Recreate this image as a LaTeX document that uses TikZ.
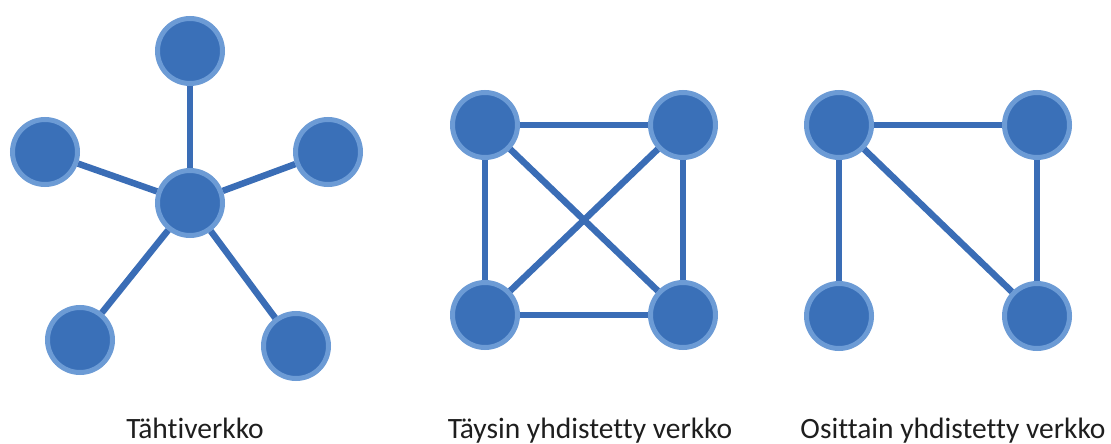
\documentclass[tikz,border=0pt]{standalone}
\usepackage{fontspec}
\setmainfont{Carlito}[Ligatures=NoCommon]
\definecolor{nodefill}{HTML}{3A70B8}
\definecolor{nodering}{HTML}{6C9BD5}
\definecolor{linkblue}{HTML}{3A6DB6}
\definecolor{labelgray}{HTML}{1E1E1E}
\begin{document}
\begin{tikzpicture}[x=1pt,y=-1pt,
  netnode/.style={circle,inner sep=0pt,minimum size=65pt,fill=nodefill,draw=nodering,line width=5pt},
  link/.style={draw=linkblue,line width=6.5pt},
  caption/.style={anchor=base,font=\fontsize{29.5}{34}\selectfont,text=labelgray,inner sep=0pt}]
\useasboundingbox (0,0) rectangle (1111,444);

% star network
\node[netnode] (sc) at (190,203) {};
\node[netnode] (s1) at (190,51) {};
\node[netnode] (s2) at (45,152) {};
\node[netnode] (s3) at (328,152) {};
\node[netnode] (s4) at (80,340) {};
\node[netnode] (s5) at (296,346) {};
\foreach \n in {s1,s2,s3,s4,s5} \draw[link] (sc) -- (\n);

% fully connected network
\node[netnode] (f1) at (485,125) {};
\node[netnode] (f2) at (683,125) {};
\node[netnode] (f3) at (485,315) {};
\node[netnode] (f4) at (683,315) {};
\draw[link] (f1) -- (f2);
\draw[link] (f3) -- (f4);
\draw[link] (f1) -- (f3);
\draw[link] (f2) -- (f4);
\draw[link] (f1) -- (f4);
\draw[link] (f2) -- (f3);

% partially connected network
\node[netnode] (p1) at (839,125) {};
\node[netnode] (p2) at (1037,125) {};
\node[netnode] (p3) at (839,316) {};
\node[netnode] (p4) at (1037,316) {};
\draw[link] (p1) -- (p2);
\draw[link] (p1) -- (p3);
\draw[link] (p2) -- (p4);
\draw[link] (p1) -- (p4);

% captions
\node[caption] (c1) at (195,438) {Tähtiverkko};
\node[caption] (c2) at (590,438) {Täysin yhdistetty verkko};
\node[caption] (c3) at (953,438) {Osittain yhdistetty verkko};
\end{tikzpicture}
\end{document}
